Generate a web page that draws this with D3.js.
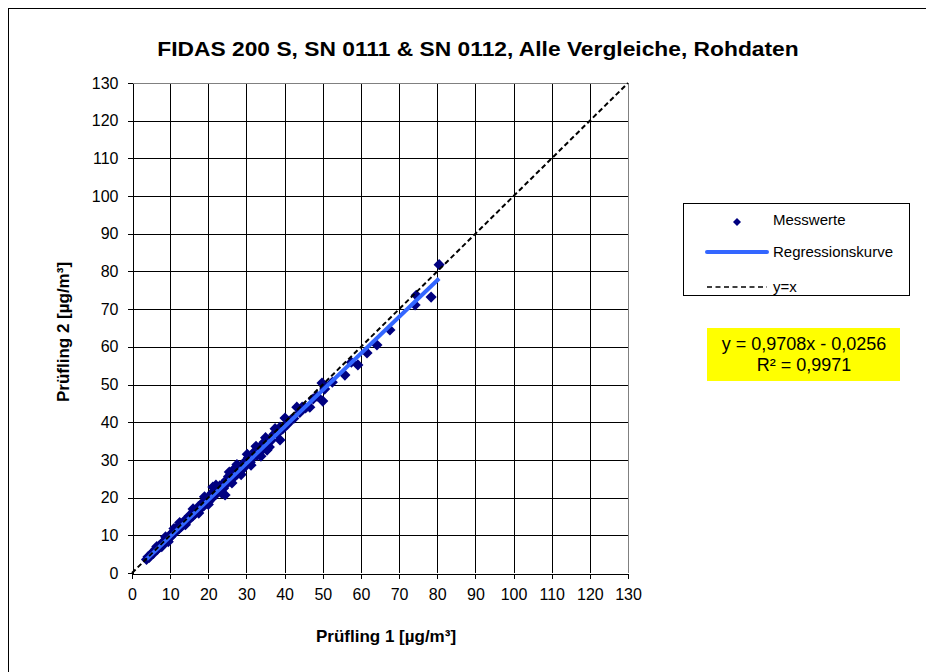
<!DOCTYPE html>
<html><head><meta charset="utf-8">
<script src="https://cdn.jsdelivr.net/npm/d3@7"></script>
<style>
html,body{margin:0;padding:0;background:#fff;}
svg text{font-family:"Liberation Sans",Arial,sans-serif;}
</style></head>
<body>
<svg id="chart" width="926" height="672"></svg>
<script>
const title = "FIDAS 200 S, SN 0111 & SN 0112, Alle Vergleiche, Rohdaten";
const xLabel = "Prüfling 1 [µg/m³]";
const yLabel = "Prüfling 2 [µg/m³]";
const tickValues = [0,10,20,30,40,50,60,70,80,90,100,110,120,130];
const legendLabels = ["Messwerte","Regressionskurve","y=x"];
const equationLines = ["y = 0,9708x - 0,0256","R² = 0,9971"];
const regSlope = 0.9708, regIntercept = -0.0256;
const regRange = [3.8, 80.5];
const identityRange = [0, 130];
// Messwerte [Prüfling 1, Prüfling 2]
const points = [
[3.8,3.6],[4.2,4.3],[4.5,4.1],[5.0,4.9],[5.3,5.4],[5.6,5.2],[6.0,5.9],[6.3,6.4],[6.7,6.3],[7.0,7.1],
[7.2,6.8],[7.6,7.5],[8.0,7.6],[8.3,8.4],[8.6,8.2],[9.0,8.9],[9.3,8.8],[9.7,9.6],[10.0,9.5],[10.2,10.3],
[10.5,10.0],[10.8,10.9],[11.1,10.6],[11.4,11.5],[11.7,11.2],[12.0,12.1],[12.3,11.7],[12.6,12.8],[12.9,12.3],[13.2,13.0],
[13.5,12.9],[13.8,13.9],[14.1,13.4],[14.4,14.3],[14.7,14.0],[15.0,15.2],[15.3,14.6],[15.6,15.4],[15.9,15.1],[16.2,16.4],
[16.5,15.7],[16.8,16.5],[17.1,16.3],[17.4,17.6],[17.7,16.9],[18.0,17.8],[18.3,17.4],[18.6,18.8],[18.9,17.9],[19.2,19.0],
[19.5,18.6],[19.8,19.9],[20.1,18.9],[20.4,20.3],[20.7,19.6],[21.0,21.3],[21.2,22.8],[21.5,20.4],[21.8,21.9],[22.1,21.0],
[22.4,22.6],[22.7,21.6],[23.0,23.1],[23.3,22.0],[23.6,23.4],[24.0,22.5],[24.4,20.7],[24.7,24.6],[25.0,23.8],[25.3,25.6],
[25.7,24.7],[26.0,26.2],[26.5,27.3],[26.8,25.5],[27.2,26.9],[27.6,26.3],[28.0,28.2],[28.4,27.0],[28.8,28.6],[29.2,27.8],
[29.6,29.5],[30.0,28.9],[30.5,30.6],[31.0,29.4],[31.7,30.8],[32.2,32.3],[32.8,31.2],[33.5,33.4],[34.0,32.5],[34.6,34.7],
[35.4,32.6],[35.8,35.3],[36.5,35.2],[37.2,36.8],[38.0,36.9],[38.8,38.7],[38.8,35.3],[39.5,38.2],[40.1,41.1],[40.8,39.5],
[41.6,40.6],[42.4,41.0],[43.2,44.0],[44.0,42.6],[44.6,44.0],[45.5,43.8],[46.6,44.0],[47.5,46.2],[48.5,46.9],[49.8,50.4],
[50.0,45.6],[50.5,48.8],[52.5,50.6],[55.8,52.5],[57.5,55.9],[59.2,55.2],[61.6,58.4],[64.2,60.5],[67.6,64.5],[74.2,71.1],
[74.5,73.7],[78.4,73.2],[80.5,81.8],
[6.5,7.0],[7.8,7.0],[8.8,9.6],[9.5,8.3],[11.0,11.8],[12.5,13.4],[14.0,12.8],[16.0,17.0],[17.5,15.9],[19.0,20.2],
[20.0,18.2],[22.0,23.3],[23.5,21.2],[25.5,26.8],[26.2,23.9],[27.5,28.8],[28.6,26.1],[30.2,31.5],[31.2,28.6],[32.5,33.6],
[33.8,31.0],[35.0,35.9],[36.0,33.4],[37.5,38.3]
];

const svg = d3.select("#chart");
const x = d3.scaleLinear().domain([0,130]).range([132,628]);
const y = d3.scaleLinear().domain([0,130]).range([573,83]);

// outer frame (right/bottom edges clipped off in reference)
svg.append("rect").attr("x",8.5).attr("y",8.5).attr("width",930).attr("height",680)
  .attr("fill","#fff").attr("stroke","#000").attr("stroke-width",1);

// title (horizontally stretched like the reference)
svg.append("text").attr("transform","translate(478,56) scale(1.14,1)").attr("text-anchor","middle")
  .attr("font-size",20).attr("font-weight","bold").text(title);

// grid
const g = svg.append("g").attr("shape-rendering","crispEdges");
g.selectAll(".vg").data(tickValues.slice(1)).join("line")
  .attr("x1",d=>Math.round(x(d))+0.5).attr("x2",d=>Math.round(x(d))+0.5)
  .attr("y1",y(0)).attr("y2",y(130))
  .attr("stroke",d=>d===130?"#808080":"#000").attr("stroke-width",1);
g.selectAll(".hg").data(tickValues.slice(1)).join("line")
  .attr("y1",d=>Math.round(y(d))+0.5).attr("y2",d=>Math.round(y(d))+0.5)
  .attr("x1",x(0)).attr("x2",x(130))
  .attr("stroke",d=>d===130?"#808080":"#000").attr("stroke-width",1);

// axes
const xAxis = d3.axisBottom(x).tickValues(tickValues).tickSize(5).tickSizeOuter(0).tickPadding(10);
const yAxis = d3.axisLeft(y).tickValues(tickValues).tickSize(5).tickSizeOuter(0).tickPadding(9);
const gx = svg.append("g").attr("transform",`translate(0,${Math.round(y(0))+0.5})`).call(xAxis);
const gy = svg.append("g").attr("transform",`translate(${Math.round(x(0))+0.5},0)`).call(yAxis);
[gx,gy].forEach(a=>{
  a.attr("shape-rendering","crispEdges");
  a.select(".domain").attr("stroke","#000");
  a.selectAll(".tick line").attr("stroke","#000");
  a.selectAll("text").attr("font-size",16).attr("fill","#000")
    .attr("font-family","Liberation Sans, Arial, sans-serif");
});

// axis labels
svg.append("text").attr("x",386).attr("y",642).attr("text-anchor","middle")
  .attr("font-size",17).attr("font-weight","bold").text(xLabel);
svg.append("text").attr("transform","translate(69,332) rotate(-90)").attr("text-anchor","middle")
  .attr("font-size",17).attr("font-weight","bold").text(yLabel);

// data points
const diamond = d3.symbol().type(d3.symbolSquare).size(62);
svg.append("g").selectAll("path").data(points).join("path")
  .attr("d",diamond)
  .attr("transform",d=>`translate(${x(d[0])},${y(d[1])}) rotate(45)`)
  .attr("fill","#000080");

// regression line
const line = d3.line().x(d=>x(d[0])).y(d=>y(d[1]));
svg.append("path").datum(regRange.map(v=>[v, regSlope*v+regIntercept]))
  .attr("d",line).attr("stroke","#3366FF").attr("stroke-width",4).attr("fill","none");

// y=x
svg.append("path").datum(identityRange.map(v=>[v,v]))
  .attr("d",line).attr("stroke","#000").attr("stroke-width",2)
  .attr("stroke-dasharray","5,3").attr("fill","none");

// legend
const lg = svg.append("g");
lg.append("rect").attr("x",683.5).attr("y",203.5).attr("width",226).attr("height",92)
  .attr("fill","#fff").attr("stroke","#000").attr("stroke-width",1);
lg.append("path").attr("d",d3.symbol().type(d3.symbolSquare).size(32))
  .attr("transform","translate(737,222) rotate(45)").attr("fill","#000080");
lg.append("line").attr("x1",707).attr("x2",767).attr("y1",252).attr("y2",252)
  .attr("stroke","#3366FF").attr("stroke-width",4).attr("stroke-linecap","round");
lg.append("line").attr("x1",707).attr("x2",767).attr("y1",287).attr("y2",287)
  .attr("stroke","#000").attr("stroke-width",1.5).attr("stroke-dasharray","5,3.5");
lg.selectAll("text").data(legendLabels).join("text")
  .attr("x",773).attr("y",(d,i)=>[220,252,287][i]).attr("dy","0.35em")
  .attr("font-size",15).text(d=>d);

// equation box
svg.append("rect").attr("x",707).attr("y",328).attr("width",193).attr("height",53).attr("fill","#ffff00");
svg.selectAll(".eq").data(equationLines).join("text")
  .attr("x",804).attr("y",(d,i)=>350+i*21).attr("text-anchor","middle")
  .attr("font-size",18).text(d=>d);
</script>
</body></html>
